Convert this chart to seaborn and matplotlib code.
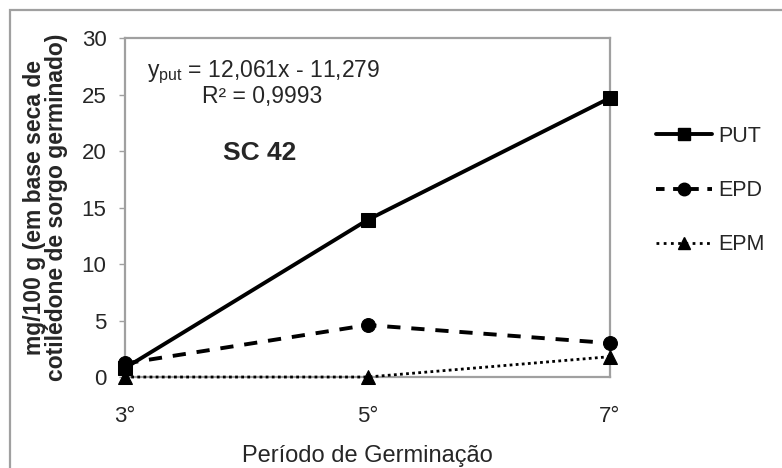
import matplotlib
matplotlib.use("Agg")
import matplotlib.pyplot as plt
import seaborn as sns
import pandas as pd
from matplotlib.patches import Rectangle
from matplotlib.lines import Line2D

# ---- data ----
dias = [3, 5, 7]
tick_labels = ["3°", "5°", "7°"]
series_names = ["PUT", "EPD", "EPM"]
put = [0.8, 13.9, 24.7]
epd = [1.2, 4.6, 3.0]
epm = [0.0, 0.0, 1.8]

sns.set_theme(style="white")
plt.rcParams['font.family'] = ['Liberation Sans', 'DejaVu Sans']
plt.rcParams['mathtext.fontset'] = 'custom'
plt.rcParams['mathtext.rm'] = 'Liberation Sans'
plt.rcParams['mathtext.it'] = 'Liberation Sans'

df = pd.DataFrame({
    "dia": dias * 3,
    "valor": put + epd + epm,
    "serie": [series_names[0]] * 3 + [series_names[1]] * 3 + [series_names[2]] * 3,
})

fig = plt.figure(figsize=(7.82, 4.68), dpi=100)
ax = fig.add_axes([0.160, 0.1944, 0.620, 0.7244])

markers = {"PUT": "s", "EPD": "o", "EPM": "^"}
widths = {"PUT": 2.8, "EPD": 2.8, "EPM": 2.0}
for name in series_names:
    sub = df[df["serie"] == name]
    sns.lineplot(data=sub, x="dia", y="valor", ax=ax, color="black",
                 marker=markers[name], markersize=10, markeredgecolor="black",
                 linewidth=widths[name], legend=False,
                 dashes=False, clip_on=False, zorder=3)
    line = ax.get_lines()[-1]
    if name == "EPD":
        line.set_dashes((3.4, 2.8))
    elif name == "EPM":
        line.set_dashes((1, 1.2))

ax.set_xlim(3, 7)
ax.set_ylim(0, 30)
ax.set_xticks(dias)
ax.set_xticklabels(tick_labels)
ax.set_yticks([0, 5, 10, 15, 20, 25, 30])
ax.tick_params(axis="y", which="both", left=True, length=4.5, width=1,
               color="#a0a0a0", labelsize=16, pad=9)
ax.tick_params(axis="x", length=0, labelsize=16, pad=21)
for s in ax.spines.values():
    s.set_color("#a0a0a0")
    s.set_linewidth(1.6)

ax.set_xlabel("Período de Germinação", fontsize=17, labelpad=13)
ax.set_ylabel("mg/100 g (em base seca de\ncotilédone de sorgo germinado)",
              fontsize=16.5, fontweight="bold", labelpad=10, linespacing=0.95)

ax.text(0.045, 0.90, r"y$_{\mathrm{put}}$ = 12,061x - 11,279", transform=ax.transAxes,
        fontsize=16.5, ha="left", va="center")
ax.text(0.159, 0.826, "R² = 0,9993", transform=ax.transAxes,
        fontsize=16.5, ha="left", va="center")
ax.text(0.202, 0.661, "SC 42", transform=ax.transAxes,
        fontsize=19, fontweight="bold", ha="left", va="center")

handles = [
    Line2D([], [], color="black", linewidth=2.8, marker="s", markersize=9),
    Line2D([], [], color="black", linewidth=2.8, marker="o", markersize=9, dashes=(2.2, 2.2)),
    Line2D([], [], color="black", linewidth=2.0, marker="^", markersize=9, dashes=(1, 1.6)),
]
leg = ax.legend(handles, series_names, loc="center left", bbox_to_anchor=(1.055, 0.55),
                frameon=False, fontsize=15.5, handlelength=2.6, labelspacing=1.55,
                handletextpad=0.3)

fig.patches.append(Rectangle((10 / 782, -0.1), 1.2, (468 - 10) / 468 + 0.1,
                             transform=fig.transFigure, fill=False,
                             edgecolor="#a0a0a0", linewidth=1.6))

fig.savefig("out.png", dpi=100)
